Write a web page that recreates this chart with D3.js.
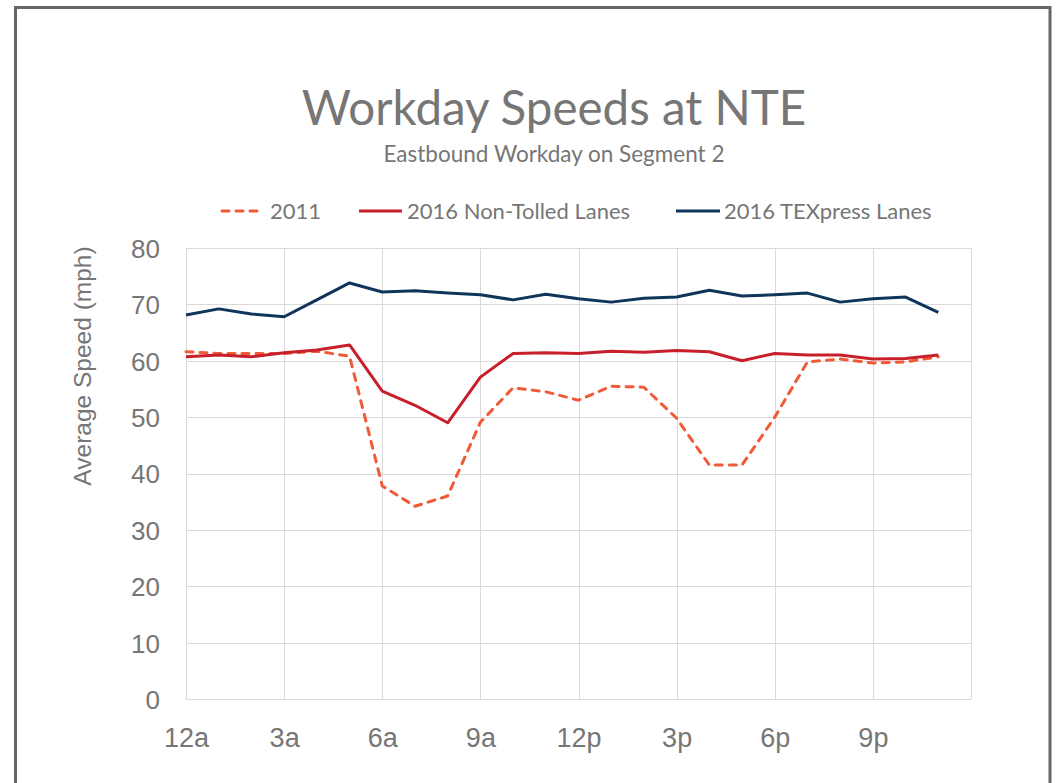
<!DOCTYPE html>
<html>
<head>
<meta charset="utf-8">
<script src="https://cdn.jsdelivr.net/npm/d3@7"></script>
<style>
  html, body { margin: 0; padding: 0; background: #ffffff; }
  svg { display: block; }
</style>
</head>
<body>
<svg id="chart" width="1057" height="783"></svg>
<script>
// Hour of day (0 = midnight) for each reading
const hours = d3.range(0, 24);

// Average speeds, mph
const speeds2011 = [61.6, 61.3, 61.3, 61.3, 61.7, 60.8, 37.8, 34.2, 36.0, 49.1, 55.2, 54.5,
                    53.0, 55.5, 55.3, 49.8, 41.5, 41.5, 50.0, 59.8, 60.3, 59.6, 59.8, 60.7];
const speedsNonTolled = [60.7, 61.0, 60.7, 61.4, 61.9, 62.8, 54.6, 52.1, 49.0, 57.1, 61.3, 61.4,
                         61.3, 61.7, 61.5, 61.8, 61.6, 60.0, 61.3, 61.0, 61.0, 60.3, 60.4, 61.0];
const speedsTexpress = [68.1, 69.2, 68.3, 67.8, 70.8, 73.8, 72.2, 72.4, 72.0, 71.7, 70.8, 71.8,
                        71.0, 70.4, 71.1, 71.3, 72.5, 71.5, 71.7, 72.0, 70.4, 71.0, 71.3, 68.6];

// Axis ticks
const hourTicks = [0, 3, 6, 9, 12, 15, 18, 21];
const hourLabels = ["12a", "3a", "6a", "9a", "12p", "3p", "6p", "9p"];
const speedTicks = [0, 10, 20, 30, 40, 50, 60, 70, 80];

const seriesNames = ["2011", "2016 Non-Tolled Lanes", "2016 TEXpress Lanes"];
const seriesColors = ["#f15a36", "#c8202b", "#10355a"];
const seriesValues = [speeds2011, speedsNonTolled, speedsTexpress];

const svg = d3.select("#chart");
const textGray = "#767676";
const titleFont = "Lato, 'Open Sans', sans-serif";
const axisFont = "'Liberation Sans', Arial, sans-serif";

// Outer frame
svg.append("path")
  .attr("d", "M15.5,790 L15.5,7.5 L1050,7.5 L1050,790")
  .attr("fill", "none")
  .attr("stroke", "#666666")
  .attr("stroke-width", 3);

const x = d3.scaleLinear().domain([0, 24]).range([186, 971]);
const y = d3.scaleLinear().domain([0, 80]).range([699, 248]);

// Gridlines
const grid = svg.append("g");
grid.selectAll("line.h")
  .data(speedTicks)
  .join("line")
  .attr("x1", x(0)).attr("x2", x(24))
  .attr("y1", d => Math.round(y(d)) + 0.5).attr("y2", d => Math.round(y(d)) + 0.5)
  .attr("stroke", "#d9d9d9").attr("stroke-width", 1);
grid.selectAll("line.v")
  .data(hourTicks.concat([24]))
  .join("line")
  .attr("x1", d => Math.round(x(d)) + 0.5).attr("x2", d => Math.round(x(d)) + 0.5)
  .attr("y1", y(80)).attr("y2", y(0))
  .attr("stroke", "#d9d9d9").attr("stroke-width", 1);

// Y axis tick labels
const yAxis = d3.axisLeft(y).tickValues(speedTicks).tickSize(0).tickPadding(26);
svg.append("g")
  .attr("transform", `translate(${x(0)},0)`)
  .call(yAxis)
  .call(g => g.select(".domain").remove())
  .call(g => g.selectAll("text")
    .attr("font-family", axisFont)
    .attr("font-size", 26)
    .attr("fill", textGray)
    .attr("dy", "0.36em"));

// X axis tick labels
const xAxis = d3.axisBottom(x).tickValues(hourTicks)
  .tickFormat((d, i) => hourLabels[i]).tickSize(0).tickPadding(29);
svg.append("g")
  .attr("transform", `translate(0,${y(0)})`)
  .call(xAxis)
  .call(g => g.select(".domain").remove())
  .call(g => g.selectAll("text")
    .attr("font-family", axisFont)
    .attr("font-size", 27)
    .attr("fill", textGray));

// Y axis title
svg.append("text")
  .attr("transform", "translate(91,366) rotate(-90)")
  .attr("text-anchor", "middle")
  .attr("font-family", axisFont)
  .attr("font-size", 24.5)
  .attr("fill", textGray)
  .text("Average Speed (mph)");

// Lines
const line = d3.line()
  .x((d, i) => x(hours[i]))
  .y(d => y(d));

[0, 1, 2].forEach(k => {
  svg.append("path")
    .datum(seriesValues[k])
    .attr("d", line)
    .attr("fill", "none")
    .attr("stroke", seriesColors[k])
    .attr("stroke-width", 3)
    .attr("stroke-linejoin", "round")
    .attr("stroke-linecap", k === 0 ? "round" : "butt")
    .attr("stroke-dasharray", k === 0 ? "7,7" : null);
});

// Title and subtitle
svg.append("text")
  .attr("x", 554).attr("y", 125)
  .attr("text-anchor", "middle")
  .attr("font-family", titleFont)
  .attr("font-size", 47.5)
  .attr("fill", textGray)
  .text("Workday Speeds at NTE");
svg.append("text")
  .attr("x", 554).attr("y", 162)
  .attr("text-anchor", "middle")
  .attr("font-family", titleFont)
  .attr("font-size", 22.5)
  .attr("fill", textGray)
  .text("Eastbound Workday on Segment 2");

// Legend
const legendItems = [
  { x1: 222, x2: 263, tx: 270 },
  { x1: 359, x2: 402, tx: 407 },
  { x1: 676, x2: 720, tx: 724 }
];
const legend = svg.append("g");
legendItems.forEach((it, k) => {
  legend.append("line")
    .attr("x1", it.x1).attr("x2", it.x2)
    .attr("y1", 211).attr("y2", 211)
    .attr("stroke", seriesColors[k])
    .attr("stroke-width", 3)
    .attr("stroke-linecap", k === 0 ? "round" : "butt")
    .attr("stroke-dasharray", k === 0 ? "7,7" : null);
  legend.append("text")
    .attr("x", it.tx).attr("y", 219)
    .attr("font-family", titleFont)
    .attr("font-size", 22)
    .attr("fill", textGray)
    .text(seriesNames[k]);
});
</script>
</body>
</html>
